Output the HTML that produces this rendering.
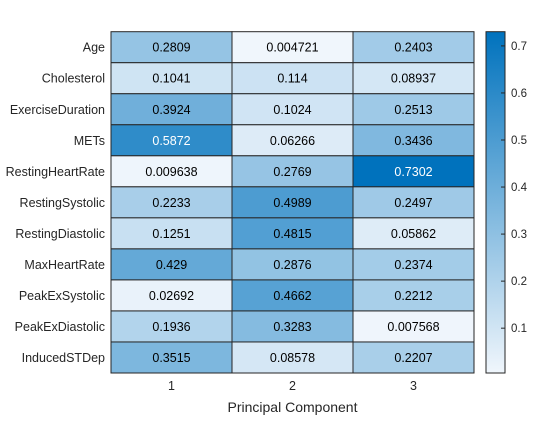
<!DOCTYPE html>
<html><head><meta charset="utf-8"><style>
body{margin:0;background:#fff;font-family:"Liberation Sans",sans-serif;}
svg text{font-family:"Liberation Sans",sans-serif;}
</style></head><body>
<svg id="chart" width="560" height="420" xmlns="http://www.w3.org/2000/svg">
<defs><linearGradient id="cb" x1="0" y1="1" x2="0" y2="0"><stop offset="0" stop-color="rgb(240,246,252)"/><stop offset="1" stop-color="rgb(0,114,189)"/></linearGradient></defs>
<g id="cells"></g>
<g id="labels"></g>
</svg>
<script>
const rowLabels=["Age","Cholesterol","ExerciseDuration","METs","RestingHeartRate","RestingSystolic","RestingDiastolic","MaxHeartRate","PeakExSystolic","PeakExDiastolic","InducedSTDep"];
const colLabels=["1","2","3"];
const pc1=[0.2809,0.1041,0.3924,0.5872,0.009638,0.2233,0.1251,0.429,0.02692,0.1936,0.3515];
const pc2=[0.004721,0.114,0.1024,0.06266,0.2769,0.4989,0.4815,0.2876,0.4662,0.3283,0.08578];
const pc3=[0.2403,0.08937,0.2513,0.3436,0.7302,0.2497,0.05862,0.2374,0.2212,0.007568,0.2207];
const cbTicks=[0.1,0.2,0.3,0.4,0.5,0.6,0.7];
const series=[pc1,pc2,pc3];
const L=111,T=31.7,R=474,B=373;
const cw=(R-L)/colLabels.length, rh=(B-T)/rowLabels.length;
const all=series.flat(); const vmin=Math.min(...all), vmax=Math.max(...all);
const NS="http://www.w3.org/2000/svg";
const svg=document.getElementById('chart');
function mk(t,a,p){const e=document.createElementNS(NS,t);for(const k in a)e.setAttribute(k,a[k]);(p||svg).appendChild(e);return e;}
function col(v){const t=(v-vmin)/(vmax-vmin);const c0=[240,246,252],c1=[0,114,189];return `rgb(${c0.map((c,i)=>Math.round(c+(c1[i]-c)*t)).join(',')})`;}
const cells=document.getElementById('cells');
series.forEach((s,j)=>s.forEach((v,i)=>{
  const r=mk('rect',{x:L+j*cw,y:T+i*rh,width:cw,height:rh,fill:col(v),stroke:'#262626','stroke-width':1},cells);
  
  
  const tx=mk('text',{x:L+j*cw+cw/2,y:T+i*rh+rh/2+4.5,'text-anchor':'middle','font-size':12.5,fill:(v-vmin)/(vmax-vmin)>0.75?'#fff':'#000'});
  tx.textContent=String(v);
  
  
}));
rowLabels.forEach((l,i)=>{const t=mk('text',{x:L-6,y:T+i*rh+rh/2+4.5,'text-anchor':'end','font-size':12.5,fill:'#262626'});t.textContent=l;
  
  });
colLabels.forEach((l,j)=>{const t=mk('text',{x:L+j*cw+cw/2,y:B+17,'text-anchor':'middle','font-size':12.5,fill:'#262626'});t.textContent=l;
  
  });
const xt=mk('text',{x:(L+R)/2,y:B+39,'text-anchor':'middle','font-size':14,fill:'#262626'});xt.textContent='Principal Component';


const cx=486,cwid=19;
const cbar=mk('rect',{x:cx,y:T,width:cwid,height:B-T,fill:'url(#cb)',stroke:'#262626','stroke-width':1});


cbTicks.forEach(v=>{const y=B-(v-vmin)/(vmax-vmin)*(B-T);
  mk('line',{x1:cx+cwid-4,x2:cx+cwid,y1:y,y2:y,stroke:'#262626'});
  const t=mk('text',{x:cx+cwid+6,y:y+4,'font-size':11.5,fill:'#262626'});t.textContent=v.toFixed(1);
  
  });
</script>
</body></html>
